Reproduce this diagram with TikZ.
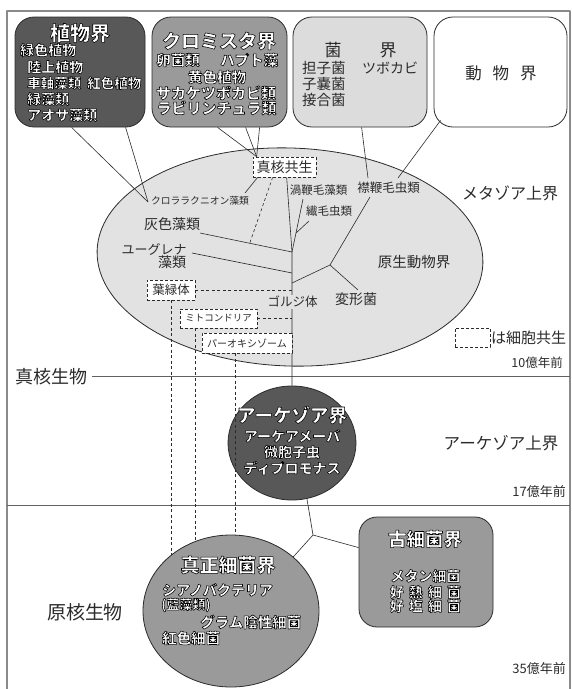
\documentclass[tikz,border=0pt]{standalone}
\usepackage{fontspec}
\setmainfont{Noto Sans CJK JP}
\usetikzlibrary{shapes.geometric,calc}
\definecolor{ink}{HTML}{2B2B2B}
\definecolor{gdark}{HTML}{585858}
\definecolor{gmid}{HTML}{9A9A9A}
\definecolor{glight}{HTML}{DCDCDC}
\definecolor{gell}{HTML}{E2E2E2}
\definecolor{framec}{HTML}{8A8A8A}
\newcommand\fz[1]{\fontsize{#1pt}{#1pt}\selectfont}
% white text with a black outline: fill + stroke text rendering mode
\newcommand\olt[1]{{\bfseries\textcolor{white}{\special{pdf:code 2 Tr 0.55 w 0 G}#1\special{pdf:code 0 Tr}}}}
\begin{document}
\begin{tikzpicture}[x=1pt,y=-1pt,line join=round,
 kbox/.style={draw=ink,line width=0.8pt,rounded corners=19pt,inner sep=0pt},
 dbox/.style={draw=ink,line width=0.7pt,dash pattern=on 3pt off 2pt,fill=white,inner sep=0pt},
 conn/.style={draw=ink,line width=0.6pt},
 dconn/.style={draw=ink,line width=0.6pt,dash pattern=on 3pt off 2.5pt},
 lbl/.style={inner sep=0pt,text=ink},
 wt/.style={inner sep=0pt},
 hline/.style={draw=framec!70!black,line width=0.9pt}]
\useasboundingbox (0,0) rectangle (572,689);
\fill[white] (0,0) rectangle (572,689);
% frame
\draw[draw=framec,line width=1.2pt] (7,689) -- (7,11) -- (570,11) -- (570,689);

% ===== top kingdom boxes =====
\node[kbox,fill=gdark,minimum width=130pt,minimum height=110pt] (plant) at (80,72) {};
\node[kbox,fill=gmid,minimum width=135pt,minimum height=110pt] (chrom) at (219.5,72) {};
\node[kbox,fill=glight,minimum width=134pt,minimum height=110pt] (fungi) at (360,72) {};
\node[kbox,fill=white,minimum width=133pt,minimum height=110pt] (animal) at (500.5,72) {};

% plant texts
\node[wt,font=\fz{20}] (plantT) at (80,33) {\olt{植物界}};
\node[wt,font=\fz{14},anchor=west] (p1) at (20,50) {\olt{緑色植物}};
\node[wt,font=\fz{14},anchor=west] (p2) at (27,67) {\olt{陸上植物}};
\node[wt,font=\fz{13.5},anchor=west] (p3) at (27,83) {\olt{車軸藻類}};
\node[wt,font=\fz{13.5},anchor=west] (p4) at (87,83) {\olt{紅色植物}};
\node[wt,font=\fz{14},anchor=west] (p5) at (27,99) {\olt{緑藻類}};
\node[wt,font=\fz{14},anchor=west] (p6) at (27,115) {\olt{アオサ藻類}};

% chromista texts
\node[wt,font=\fz{19}] (chromT) at (219,41) {\olt{クロミスタ界}};
\node[wt,font=\fz{14.5},anchor=west] (c1t) at (156,60) {\olt{卵菌類}};
\node[wt,font=\fz{14.5},anchor=west] (c2t) at (220,60) {\olt{ハプト藻}};
\node[wt,font=\fz{14.5}] (c3t) at (217,77) {\olt{黄色植物}};
\node[wt,font=\fz{15}] (c4t) at (216,93) {\olt{サカケツボカビ類}};
\node[wt,font=\fz{15}] (c5t) at (216.5,108) {\olt{ラビリンチュラ類}};

% fungi texts
\node[lbl,font=\fz{17}] (fT1) at (333,50) {菌};
\node[lbl,font=\fz{17}] (fT2) at (388,50) {界};
\node[lbl,font=\fz{14.5},anchor=west] (f1) at (302,68) {担子菌};
\node[lbl,font=\fz{14.5},anchor=west] (f2) at (302,84) {子嚢菌};
\node[lbl,font=\fz{14.5},anchor=west] (f3) at (302,100) {接合菌};
\node[lbl,font=\fz{14},anchor=west] (f4) at (362,68) {ツボカビ};

% animal text
\node[lbl,font=\fz{16.5}] (animT) at (501,73) {動\hspace{11pt}物\hspace{11pt}界};

% ===== big eukaryote ellipse =====
\node[ellipse,draw=ink,line width=0.8pt,fill=gell,minimum width=386pt,minimum height=218pt,inner sep=0pt,rotate=-2] (meta) at (290,257) {};

% coordinates of junctions
\coordinate (jcl) at (148,202);
\coordinate (c1) at (245,193);
\coordinate (gL) at (200,233);
\coordinate (j1) at (292,252);
\coordinate (j2) at (296,233);
\coordinate (cdin) at (303,199);
\coordinate (ccil) at (309,221);
\coordinate (eL) at (192,253);
\coordinate (j3) at (292,273);
\coordinate (cfu) at (368,178);
\coordinate (can) at (398,178);
\coordinate (cch) at (370,197);
\coordinate (j4) at (330,265);
\coordinate (cmyx) at (358,290);
\coordinate (j5) at (292,283);

% dashed box of the endosymbiosis
\node[dbox,minimum width=63pt,minimum height=20pt] (endo) at (284.5,167) {};
\node[lbl,font=\fz{14}] (endoT) at (284.5,167) {真核共生};

% lines from top boxes
\draw[conn] ($(plant.south west)+(57,0)$) -- (jcl);
\draw[conn] ($(plant.south west)+(111,0)$) -- (jcl);
\draw[conn] ($(chrom.south west)+(66,0)$) -- ($(endo.north west)+(4,0)$);
\draw[conn] ($(chrom.south west)+(94,0)$) -- ($(endo.north west)+(4,0)$);
\draw[conn] ($(chrom.south west)+(108,0)$) -- ($(endo.north west)+(4,0)$);
\draw[conn] (c1) -- ($(endo.south west)+(5,0)$);
\draw[conn] ($(fungi.south west)+(69,0)$) -- (cfu);
\draw[conn] ($(animal.south west)+(7,-7)$) -- (can);

% tree inside ellipse
\draw[dconn] ($(endo.south west)+(20,0)$) -- ($(gL)!0.54!(j1)$);
\draw[conn] (gL) -- (j1);
\draw[conn] (eL) -- (j3);
\draw[conn] (cdin) -- (j2) -- (j1);
\draw[conn] (ccil) -- (j2);
\draw[conn] (cch) -- (j4) -- (cmyx);
\draw[conn] (j4) -- (j5);

% labels inside ellipse
\node[lbl,font=\fz{9.8}] (chlo) at (200,201) {クロララクニオン藻類};
\node[lbl,font=\fz{14}] (glau) at (172,224) {灰色藻類};
\node[lbl,font=\fz{13}] (eug1) at (154,249) {ユーグレナ};
\node[lbl,font=\fz{14}] (eug2) at (172,262) {藻類};
\node[lbl,font=\fz{11.5}] (dino) at (318.5,190) {渦鞭毛藻類};
\node[lbl,font=\fz{11.5}] (cili) at (329,211) {繊毛虫類};
\node[lbl,font=\fz{12.5}] (choa) at (388.5,188) {襟鞭毛虫類};
\node[lbl,font=\fz{14.5}] (prot) at (414,262) {原生動物界};
\node[lbl,font=\fz{14}] (myxo) at (356,299) {変形菌};

% eukaryote horizontal line
\node[lbl,font=\fz{18}] (euk) at (52,377) {真核生物};
\coordinate (fr1) at (570,376);
\draw[hline] ($(euk.east)+(4,-1)$) -- (fr1);
% 17 oku line
\coordinate (fl2) at (7,505);
\coordinate (fr2) at (570,505);
\draw[hline] (fl2) -- (fr2);

% archaezoa circle
\node[ellipse,draw=ink,line width=0.8pt,fill=gdark,minimum width=128pt,minimum height=114pt,inner sep=0pt] (az) at (292,443) {};
% trunk
\draw[conn] ($(endo.south west)+(34,0)$) -- (j1) -- (az.north);

% organelle boxes
\node[dbox,minimum width=48pt,minimum height=20pt] (chl) at (171,290) {};
\node[lbl,font=\fz{12.5}] (chlT) at (171,290) {葉緑体};
\node[dbox,minimum width=77pt,minimum height=19pt] (mito) at (218.5,318.5) {};
\node[lbl,font=\fz{9.5}] (mitoT) at (218.5,318.5) {ミトコンドリア};
\node[dbox,minimum width=90pt,minimum height=20pt] (pero) at (247,343) {};
\node[lbl,font=\fz{10}] (peroT) at (247,343) {パーオキシゾーム};
\node[lbl,font=\fz{12.5},fill=gell,inner sep=1pt] (golgi) at (292.5,302) {ゴルジ体};

\draw[dconn] (chl.east) -- (chl.east -| j1);
\draw[dconn] (mito.east) -- (mito.east -| j1);
\coordinate (e0) at (0,600);
\coordinate (mB) at ($(mito.south west)+(16,0)$);
\coordinate (pB) at ($(pero.south west)+(34,0)$);
\draw[dconn] (chl.south) -- (chl.south |- e0);
\draw[dconn] (mB) -- (mB |- e0);
\draw[dconn] (pB) -- (pB |- e0);

% archaezoa texts
\node[wt,font=\fz{18.5}] (azT) at (292,415) {\olt{アーケゾア界}};
\node[wt,font=\fz{14}] (az1) at (292,436) {\olt{アーケアメーバ}};
\node[wt,font=\fz{14}] (az2) at (292,452) {\olt{微胞子虫}};
\node[wt,font=\fz{14}] (az3) at (292,468) {\olt{ディプロモナス}};

% prokaryote nodes
\node[ellipse,draw=ink,line width=0.8pt,fill=gmid,minimum width=176pt,minimum height=152pt,inner sep=0pt] (eub) at (231,611) {};
\node[kbox,fill=gmid,rounded corners=18pt,minimum width=134pt,minimum height=110pt] (arch) at (426,572) {};
\coordinate (jb) at (313,535);
\draw[conn] (az.-75) -- (jb) -- (eub.41);
\draw[conn] (jb) -- ($(arch.north west)+(0,31)$);

% eubacteria texts
\node[wt,font=\fz{19}] (eubT) at (228,565) {\olt{真正細菌界}};
\node[wt,font=\fz{14},anchor=west] (e1) at (162,590) {\olt{シアノバクテリア}};
\node[wt,font=\fz{13},anchor=west] (e2) at (161,605) {\olt{(藍藻類)}};
\node[wt,font=\fz{14.5},anchor=west] (e3) at (200,622) {\olt{グラム陰性細菌}};
\node[wt,font=\fz{14.5},anchor=west] (e4) at (162,638) {\olt{紅色細菌}};

% archaea texts
\node[wt,font=\fz{18.5}] (archT) at (425,539) {\olt{古細菌界}};
\node[wt,font=\fz{14}] (a1) at (425.5,576) {\olt{メタン細菌}};
\node[wt,font=\fz{14}] (a2) at (425.5,592) {\olt{好\hspace{5pt}熱\hspace{5pt}細\hspace{5pt}菌}};
\node[wt,font=\fz{14}] (a3) at (425.5,606) {\olt{好\hspace{5pt}塩\hspace{5pt}細\hspace{5pt}菌}};

% side labels
\node[lbl,font=\fz{16}] (metaT) at (510,193) {メタゾア上界};
\node[lbl,font=\fz{16.5}] (azsT) at (501,443) {アーケゾア上界};
\node[lbl,font=\fz{19}] (prok) at (85,612) {原核生物};
\node[lbl,font=\fz{12.5},anchor=east] (t10) at (563,363) {10億年前};
\node[lbl,font=\fz{13},anchor=east] (t17) at (566,492) {17億年前};
\node[lbl,font=\fz{13},anchor=east] (t35) at (566,669) {35億年前};

% legend
\node[dbox,minimum width=35pt,minimum height=19pt] (leg) at (472.5,337.5) {};
\node[lbl,font=\fz{15},anchor=west] (legT) at (491,338) {は細胞共生};
\end{tikzpicture}
\end{document}
